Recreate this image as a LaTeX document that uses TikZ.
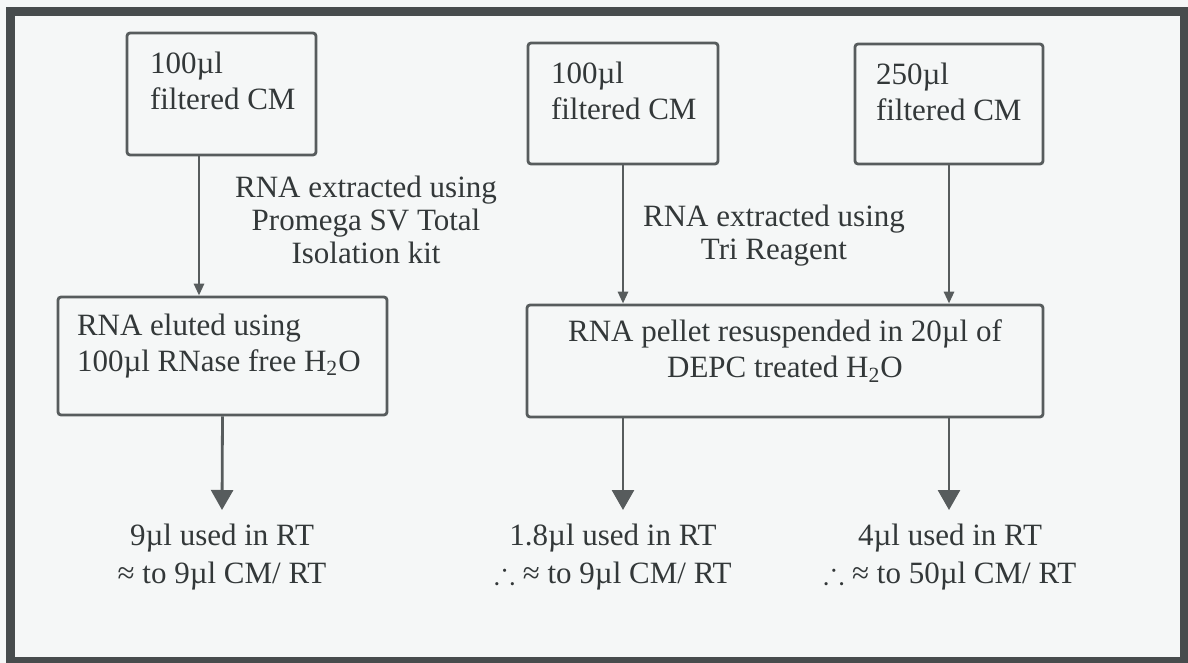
\documentclass[tikz,border=0pt]{standalone}
\usepackage{fontspec}
\usepackage{amssymb}
\setmainfont{Liberation Serif}
\usetikzlibrary{arrows.meta}

\definecolor{paper}{HTML}{F5F7F7}
\definecolor{framegray}{HTML}{474C4D}
\definecolor{linegray}{HTML}{575C5D}
\definecolor{inkgray}{HTML}{333839}

\begin{document}
\begin{tikzpicture}
  [
    x=.5pt, y=-.5pt,
    box/.style={
      draw=linegray,
      line width=1.4pt,
      rounded corners=1.5pt,
      inner sep=0pt
    },
    boxtext/.style={
      inner sep=0pt,
      align=left,
      text=inkgray,
      font=\fontsize{15.5}{18}\selectfont
    },
    note/.style={
      inner sep=0pt,
      align=center,
      text=inkgray,
      font=\fontsize{15.5}{16.5}\selectfont
    },
    result/.style={
      inner xsep=0pt,
      inner ysep=7pt,
      align=center,
      text=inkgray,
      font=\fontsize{15.5}{19}\selectfont
    },
    feed/.style={
      draw=linegray,
      line width=1.4pt,
      -{Triangle[length=6pt,width=5pt]}
    },
    yield/.style={
      draw=linegray,
      line width=1.4pt,
      -{Triangle[length=10pt,width=11pt]}
    }
  ]

  \useasboundingbox (0,0) rectangle (1188,663);
  \fill [paper] (0,0) rectangle (1188,663);
  \draw [framegray,line width=4.5pt] (10,12) rectangle (1184,661);

  % starting material
  \node [box,minimum width=94.5pt,minimum height=61pt] (cmA) at (221.5,94) {};
  \node [box,minimum width=95pt,minimum height=60.5pt] (cmB) at (623,103.5) {};
  \node [box,minimum width=94pt,minimum height=60pt] (cmC) at (949,104) {};
  \node [boxtext,anchor=north west] (cmAtxt) at ([shift={(12pt,-10pt)}]cmA.north west) {100µl\\filtered CM};
  \node [boxtext,anchor=north west] (cmBtxt) at ([shift={(12pt,-10pt)}]cmB.north west) {100µl\\filtered CM};
  \node [boxtext,anchor=north west] (cmCtxt) at ([shift={(11pt,-10pt)}]cmC.north west) {250µl\\filtered CM};

  % extraction
  \node [note,anchor=north] (promega) at (366,176) {RNA extracted using\\Promega SV Total\\Isolation kit};
  \node [note,anchor=north] (trizol) at (774,205) {RNA extracted using\\Tri Reagent};

  \node [box,minimum width=164.5pt,minimum height=59pt] (eluted) at (222.5,356) {};
  \node [boxtext,anchor=north west] (elutedtxt) at ([shift={(10pt,-9pt)}]eluted.north west) {RNA eluted using\\100µl RNase free H\textsubscript{2}O};

  \node [box,minimum width=258pt,minimum height=56pt] (pellet) at (785,361) {};
  \node [boxtext,align=center,anchor=north] (pellettxt) at ([yshift=-8pt]pellet.north) {RNA pellet resuspended in 20µl of\\DEPC treated H\textsubscript{2}O};

  \draw [feed] ([xshift=-11.25pt]cmA.south) -- ([xshift=-11.25pt]cmA.south |- eluted.north);
  \draw [feed] (cmB.south) -- (cmB.south |- pellet.north);
  \draw [feed] (cmC.south) -- (cmC.south |- pellet.north);

  % amounts taken into RT
  \node [result,anchor=north] (rtA) at (222,510) {9µl used in RT\\≈ to 9µl CM/ RT};
  \node [result,anchor=north] (rtB) at (613,510) {1.8µl used in RT\\$\therefore$ ≈ to 9µl CM/ RT};
  \node [result,anchor=north] (rtC) at (950,510) {4µl used in RT\\$\therefore$ ≈ to 50µl CM/ RT};

  \draw [yield] (eluted.south) -- (rtA.north);
  \draw [yield] (pellet.south -| cmB.south) -- (cmB.south |- rtB.north);
  \draw [yield] (pellet.south -| cmC.south) -- (cmC.south |- rtC.north);
\end{tikzpicture}
\end{document}
